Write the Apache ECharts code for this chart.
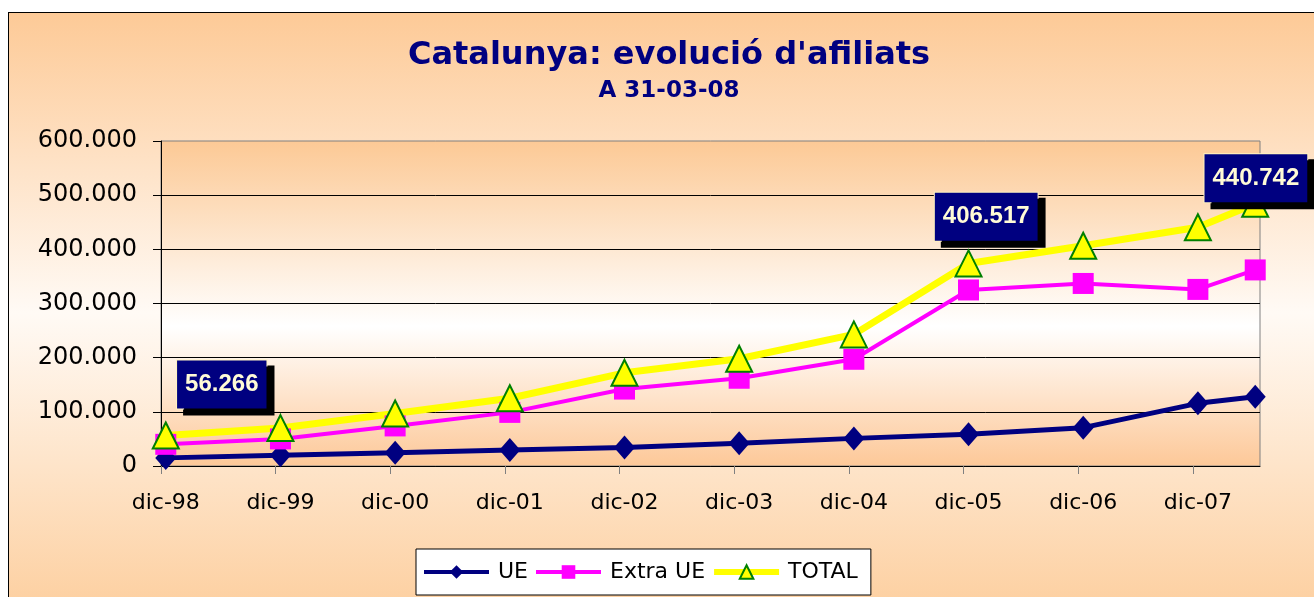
<!DOCTYPE html>
<html>
<head>
<meta charset="utf-8">
<script src="https://cdn.jsdelivr.net/npm/echarts@6/dist/echarts.min.js"></script>
<style>
  html, body { margin: 0; padding: 0; background: #fff; overflow: hidden; }
  /* marc exterior del gràfic (com l'àrea de gràfic d'Excel) */
  #frame {
    position: absolute; left: 8px; top: 12px; width: 1340px; height: 600px;
    border: 1px solid #000;
    background: linear-gradient(to bottom, #fdca97 0%, #fffaf5 50%, #fdcf9f 100%);
  }
  #chart { position: absolute; left: 0; top: 0; width: 1314px; height: 597px; }
</style>
</head>
<body>
<div id="frame"></div>
<div id="chart"></div>
<script>
// etiquetes de l'eix X (un tic per desembre)
const yearTicks = ['dic-98', 'dic-99', 'dic-00', 'dic-01', 'dic-02', 'dic-03', 'dic-04', 'dic-05', 'dic-06', 'dic-07'];
// data de cada punt (any-mes); l'últim punt cau a mig any 2008
const pointDates = ['1998-12', '1999-12', '2000-12', '2001-12', '2002-12', '2003-12', '2004-12', '2005-12', '2006-12', '2007-12', '2008-06'];
const ue = [15000, 20000, 24500, 29500, 34000, 42000, 51000, 58500, 70800, 115700, 128000];
const extraUe = [40000, 50000, 74000, 99000, 142000, 162000, 197000, 325000, 337000, 326000, 362000];
const total = [56266, 70000, 97000, 125000, 172000, 198000, 243000, 374000, 406517, 440742, 484000];

// mes (centre del mes) comptat des de dic-98
function monthPos(d) {
  const [y, m] = d.split('-').map(Number);
  return (y - 1998) * 12 + (m - 12) + 0.5;
}
// 406517 -> "406.517"
function fmt(v) {
  return String(Math.round(v)).replace(/\B(?=(\d{3})+(?!\d))/g, '.');
}

const xs = pointDates.map(monthPos);
const pairs = arr => arr.map((v, i) => [xs[i], v]);

// caixes de valor arrossegades a mà a l'original
const labelOffsets = { 0: [56, -51], 8: [-97, -29], 9: [58, -49] };
const totalData = total.map((v, i) => {
  const item = { value: [xs[i], v] };
  if (labelOffsets[i]) item.label = { show: true, offset: labelOffsets[i] };
  return item;
});

const peach = '#fcc995';
const c = echarts.init(document.getElementById('chart'));
c.setOption({
  animation: false,
  backgroundColor: 'transparent',
  title: {
    text: 'Catalunya: evolució d\'afiliats',
    subtext: 'A 31-03-08',
    left: 669, top: 40, padding: 0, itemGap: 8,
    textAlign: 'center',
    textStyle: { fontFamily: 'DejaVu Sans', fontWeight: 'bold', fontSize: 32, color: '#000080' },
    subtextStyle: { fontFamily: 'DejaVu Sans', fontWeight: 'bold', fontSize: 23, color: '#000080' }
  },
  legend: {
    data: [
      { name: 'UE', lineStyle: { width: 4 } },
      { name: 'Extra UE', lineStyle: { width: 4 } },
      { name: 'TOTAL', lineStyle: { width: 6 } }
    ],
    left: 416, top: 549,
    itemWidth: 65, itemHeight: 17, itemGap: 6,
    padding: [12, 13, 12, 6],
    backgroundColor: '#fff', borderColor: '#000', borderWidth: 1,
    textStyle: { fontFamily: 'DejaVu Sans', fontSize: 22, color: '#000', padding: [0, 0, 0, 4] }
  },
  grid: {
    left: 161, right: 54, top: 141, bottom: 131,
    show: true, borderColor: '#808080', borderWidth: 1,
    backgroundColor: {
      type: 'linear', x: 0, y: 0, x2: 0, y2: 1,
      colorStops: [{ offset: 0, color: peach }, { offset: 0.57, color: '#ffffff' }, { offset: 1, color: '#fdc898' }]
    }
  },
  xAxis: {
    type: 'value', min: 0, max: 115,
    splitLine: { show: false },
    axisLine: { lineStyle: { color: '#000', width: 1 } },
    axisTick: { length: 8, lineStyle: { color: '#808080' }, customValues: yearTicks.map((_, i) => i * 12) },
    axisLabel: {
      customValues: yearTicks.map((_, i) => i * 12 + 0.5),
      formatter: v => yearTicks[Math.round((v - 0.5) / 12)],
      margin: 26, fontFamily: 'DejaVu Sans', fontSize: 22, color: '#000'
    }
  },
  yAxis: {
    type: 'value', min: 0, max: 600000, interval: 100000,
    axisLine: { show: true, lineStyle: { color: '#000', width: 1 } },
    axisTick: { show: true, length: 8, lineStyle: { color: '#000' } },
    splitLine: { showMaxLine: false, lineStyle: { color: '#000', width: 1 } },
    axisLabel: { margin: 24, fontFamily: 'DejaVu Sans', fontSize: 24, color: '#000', formatter: fmt }
  },
  series: [
    { name: 'UE', type: 'line', data: pairs(ue), symbol: 'diamond', symbolSize: [21, 24],
      itemStyle: { color: '#000080' }, lineStyle: { width: 5, color: '#000080' } },
    { name: 'Extra UE', type: 'line', data: pairs(extraUe), symbol: 'rect', symbolSize: 21,
      itemStyle: { color: '#ff00ff' }, lineStyle: { width: 4, color: '#ff00ff' } },
    { name: 'TOTAL', type: 'line', data: totalData, symbol: 'triangle', symbolSize: 26,
      itemStyle: { color: '#ffff00', borderColor: '#008000', borderWidth: 2 },
      lineStyle: { width: 7, color: '#ffff00' },
      label: {
        show: false, position: 'inside',
        formatter: p => fmt(p.value[1]),
        fontFamily: 'Liberation Sans', fontWeight: 'bold', fontSize: 24, color: '#fffbd6',
        backgroundColor: '#000080', borderColor: '#fff3c0', borderWidth: 1,
        padding: [12, 8, 12, 8],
        shadowColor: '#000', shadowBlur: 0, shadowOffsetX: 7, shadowOffsetY: 6
      } }
  ]
});
</script>
</body>
</html>
